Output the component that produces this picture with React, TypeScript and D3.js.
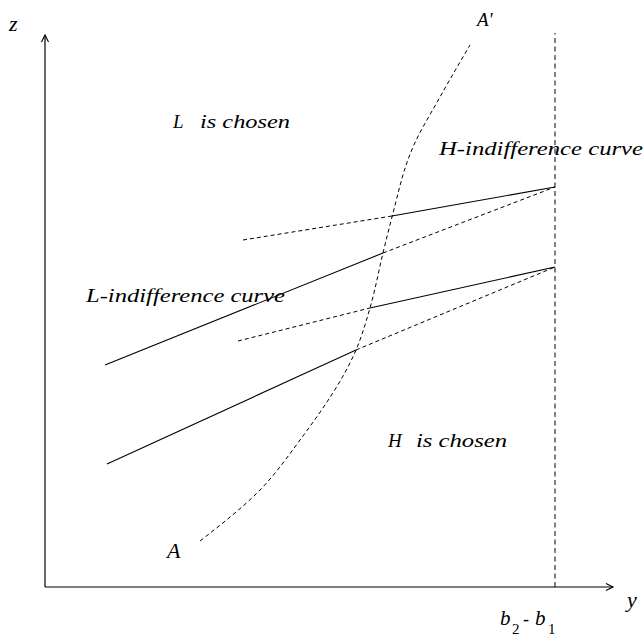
import React from "react";
import * as d3 from "d3";

// Data coordinates: y (horizontal) and z (vertical), origin at the axes' corner
const axisYMax = 570;
const axisZMax = 552;
const cutoffY = 510; // b2 - b1

// Curve A–A'
const curveY = [155, 212, 255, 311, 325, 338, 347, 368, 395, 425];
const curveZ = [46, 94, 147, 237, 279, 334, 370, 440, 490, 542];

// Indifference lines: [start, intersection with AA', end on cutoff]
const upperHY = [198, 347, 510];
const upperHZ = [347, 371, 400];
const upperLY = [60, 338, 510];
const upperLZ = [222, 334, 400];
const lowerHY = [193, 325, 510];
const lowerHZ = [246, 279, 320];
const lowerLY = [62, 311, 510];
const lowerLZ = [123, 237, 320];

const W = 644;
const H = 638;

export default function App() {
  const x = d3.scaleLinear().domain([0, axisYMax]).range([45, 45 + axisYMax]);
  const z = d3.scaleLinear().domain([0, axisZMax]).range([587, 587 - axisZMax]);

  const curvePts: [number, number][] = curveY.map((v, i) => [x(v), z(curveZ[i])]);
  const curvePath = d3.line().curve(d3.curveMonotoneY)(curvePts) || "";

  const seg = (ys: number[], zs: number[], a: number, b: number) =>
    d3.line()([[x(ys[a]), z(zs[a])], [x(ys[b]), z(zs[b])]]) || "";

  const dash = "4,3";
  const ff = "'Times New Roman', 'Liberation Serif', Tinos, Times, serif";

  const ox = x(0), oz = z(0);
  const xEnd = x(axisYMax) - 2;
  const zTop = z(axisZMax);

  const T = (p: any) => <text fontFamily={ff} fontStyle="italic" fill="#000" {...p} />;

  return (
    <svg width={W} height={H} style={{ position: "absolute", left: 0, top: 0, background: "#fff" }}>
      <rect width={W} height={H} fill="#fff" />
      {/* axes */}
      <line x1={ox} y1={oz} x2={xEnd} y2={oz} stroke="#000" strokeWidth={1.2} />
      <line x1={ox} y1={oz} x2={ox} y2={zTop} stroke="#000" strokeWidth={1.2} />
      <path d={`M${xEnd - 7},${oz - 3.5} L${xEnd},${oz} L${xEnd - 7},${oz + 3.5}`} fill="none" stroke="#000" strokeWidth={1.1} />
      <path d={`M${ox - 3.5},${zTop + 7} L${ox},${zTop} L${ox + 3.5},${zTop + 7}`} fill="none" stroke="#000" strokeWidth={1.1} />

      {/* cutoff vertical dashed line */}
      <line x1={x(cutoffY)} y1={z(0)} x2={x(cutoffY)} y2={z(554)} stroke="#000" strokeWidth={1} strokeDasharray="5,3.5" />

      {/* curve A A' */}
      <path d={curvePath} fill="none" stroke="#000" strokeWidth={1} strokeDasharray={dash} />

      {/* upper H: dashed then solid */}
      <path d={seg(upperHY, upperHZ, 0, 1)} stroke="#000" strokeWidth={1} strokeDasharray={dash} fill="none" />
      <path d={seg(upperHY, upperHZ, 1, 2)} stroke="#000" strokeWidth={1.1} fill="none" />
      {/* upper L: solid then dashed */}
      <path d={seg(upperLY, upperLZ, 0, 1)} stroke="#000" strokeWidth={1.1} fill="none" />
      <path d={seg(upperLY, upperLZ, 1, 2)} stroke="#000" strokeWidth={1} strokeDasharray={dash} fill="none" />
      {/* lower H */}
      <path d={seg(lowerHY, lowerHZ, 0, 1)} stroke="#000" strokeWidth={1} strokeDasharray={dash} fill="none" />
      <path d={seg(lowerHY, lowerHZ, 1, 2)} stroke="#000" strokeWidth={1.1} fill="none" />
      {/* lower L */}
      <path d={seg(lowerLY, lowerLZ, 0, 1)} stroke="#000" strokeWidth={1.1} fill="none" />
      <path d={seg(lowerLY, lowerLZ, 1, 2)} stroke="#000" strokeWidth={1} strokeDasharray={dash} fill="none" />

      {/* labels */}
      {T({ x: 9, y: 31, fontSize: 22, children: "z" })}
      {T({ x: 627, y: 607, fontSize: 22, children: "y" })}
      {T({ x: 477, y: 26, fontSize: 19, children: "A'" })}
      {T({ x: 167, y: 558, fontSize: 22, children: "A" })}
      {T({ x: 173, y: 128, fontSize: 19, children: "L" })}
      {T({ x: 200, y: 128, fontSize: 19, textLength: 90, lengthAdjust: "spacingAndGlyphs", children: "is chosen" })}
      {T({ x: 388, y: 447, fontSize: 19, children: "H" })}
      {T({ x: 416, y: 447, fontSize: 19, textLength: 91, lengthAdjust: "spacingAndGlyphs", children: "is chosen" })}
      {T({ x: 439, y: 155, fontSize: 18, textLength: 204, lengthAdjust: "spacingAndGlyphs", children: "H-indifference curve" })}
      {T({ x: 86, y: 302, fontSize: 18, textLength: 199, lengthAdjust: "spacingAndGlyphs", children: "L-indifference curve" })}
      {T({ x: 500, y: 625, fontSize: 21, children: "b" })}
      {T({ x: 512, y: 634, fontSize: 15, fontStyle: "normal", children: "2" })}
      {T({ x: 523, y: 625, fontSize: 18, fontStyle: "normal", children: "-" })}
      {T({ x: 535, y: 625, fontSize: 21, children: "b" })}
      {T({ x: 548, y: 634, fontSize: 15, fontStyle: "normal", children: "1" })}
    </svg>
  );
}
